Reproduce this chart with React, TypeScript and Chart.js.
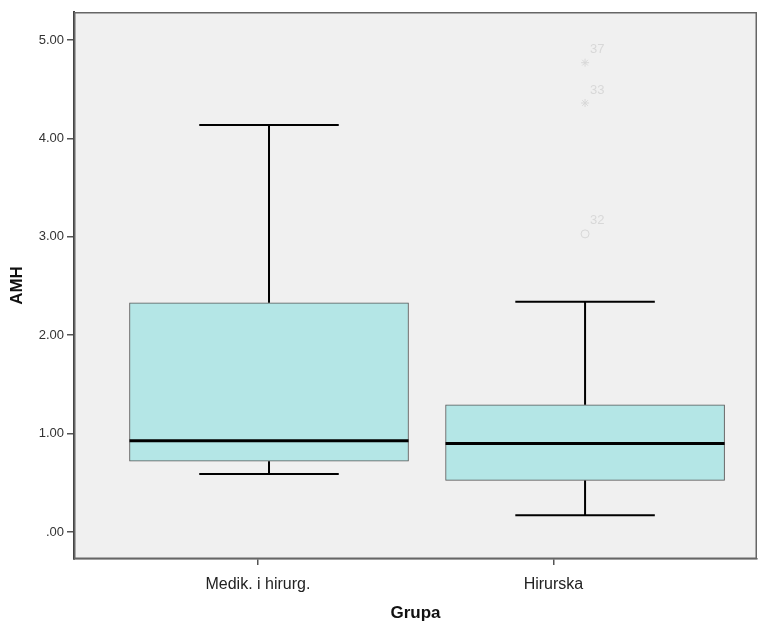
import React, { useEffect, useRef } from 'react';
import { Chart, registerables } from 'chart.js';

Chart.register(...registerables);

// ---- data ----
const categories = ['Medik. i hirurg.', 'Hirurska'];
const whiskerLow = [0.59, 0.17];
const q1 = [0.72, 0.525];
const median = [0.928, 0.9];
const q3 = [2.33, 1.294];
const whiskerHigh = [4.136, 2.34];
const outlierGroup = [1, 1, 1];
const outlierValues = [4.77, 4.36, 3.03];
const outlierIds = ['37', '33', '32'];
const outlierStyles = ['star', 'star', 'circle'];
const yTicks = [0, 1, 2, 3, 4, 5];
const categoryTickPositions = [-0.035, 0.9];

const FONT = "'Liberation Sans', Arial, sans-serif";

const boxPlugin = {
  id: 'boxExtras',
  beforeDraw(chart: any) {
    const { ctx, chartArea: a } = chart;
    ctx.save();
    ctx.fillStyle = '#F0F0F0';
    ctx.fillRect(a.left, a.top, a.right - a.left, a.bottom - a.top);
    ctx.restore();
  },
  afterDatasetsDraw(chart: any) {
    const { ctx } = chart;
    const y = chart.scales.y;
    const x = chart.scales.x;
    const meta = chart.getDatasetMeta(0);
    ctx.save();
    categories.forEach((_, i) => {
      const bar = meta.data[i];
      const cx = bar.x;
      const half = bar.width / 2;
      const capHalf = half / 2;
      ctx.strokeStyle = '#000';
      ctx.lineWidth = 2;
      ctx.beginPath();
      ctx.moveTo(cx, y.getPixelForValue(q3[i]));
      ctx.lineTo(cx, y.getPixelForValue(whiskerHigh[i]));
      ctx.moveTo(cx - capHalf, y.getPixelForValue(whiskerHigh[i]));
      ctx.lineTo(cx + capHalf, y.getPixelForValue(whiskerHigh[i]));
      ctx.moveTo(cx, y.getPixelForValue(q1[i]));
      ctx.lineTo(cx, y.getPixelForValue(whiskerLow[i]));
      ctx.moveTo(cx - capHalf, y.getPixelForValue(whiskerLow[i]));
      ctx.lineTo(cx + capHalf, y.getPixelForValue(whiskerLow[i]));
      ctx.stroke();
      ctx.lineWidth = 3;
      ctx.beginPath();
      ctx.moveTo(cx - half, y.getPixelForValue(median[i]));
      ctx.lineTo(cx + half, y.getPixelForValue(median[i]));
      ctx.stroke();
    });
    ctx.fillStyle = '#D8D8D8';
    ctx.font = `13px ${FONT}`;
    ctx.textAlign = 'left';
    ctx.textBaseline = 'middle';
    outlierValues.forEach((v, i) => {
      const px = x.getPixelForValue(outlierGroup[i]);
      const py = y.getPixelForValue(v);
      ctx.fillText(outlierIds[i], px + 5, py - 13);
    });
    ctx.restore();
  },
  afterDraw(chart: any) {
    const { ctx, chartArea: a } = chart;
    ctx.save();
    ctx.strokeStyle = '#666';
    ctx.lineWidth = 1.5;
    ctx.strokeRect(a.left + 0.75, a.top + 0.75, a.right - a.left - 1.5, a.bottom - a.top - 1.5);
    ctx.restore();
  },
};

export default function App() {
  const ref = useRef<HTMLCanvasElement>(null);

  useEffect(() => {
    if (!ref.current) return;
    const chart = new Chart(ref.current, {
      type: 'bar',
      data: {
        datasets: [
          {
            type: 'bar',
            data: categories.map((_, i) => ({ x: i, y: [q1[i], q3[i]] })) as any,
            backgroundColor: '#B4E6E6',
            borderColor: '#555',
            borderWidth: 1,
            borderSkipped: false,
            barThickness: 279,
          } as any,
          {
            type: 'scatter',
            data: outlierValues.map((v, i) => ({ x: outlierGroup[i], y: v })),
            pointStyle: outlierStyles as any,
            pointRadius: 4,
            borderColor: '#D8D8D8',
            backgroundColor: 'rgba(0,0,0,0)',
            borderWidth: 1,
          } as any,
        ],
      },
      options: {
        responsive: false,
        animation: false,
        layout: { padding: { top: 12, right: 10, left: 0, bottom: 0 } },
        plugins: { legend: { display: false }, tooltip: { enabled: false } },
        scales: {
          x: {
            type: 'linear',
            offset: false,
            min: -0.617,
            max: 1.544,
            afterBuildTicks: (s: any) => {
              s.ticks = categoryTickPositions.map((v) => ({ value: v }));
            },
            afterFit: (s: any) => {
              s.height = 65;
            },
            ticks: {
              callback: (_v: any, idx: number) => categories[idx],
              font: { family: FONT, size: 16 },
              color: '#222',
              padding: 10,
              maxRotation: 0,
              autoSkip: false,
            },
            grid: { offset: false, drawOnChartArea: false, drawTicks: true, tickLength: 6, color: '#555', lineWidth: 1.5 },
            border: { display: true, color: '#444', width: 1.5 },
            title: {
              display: true,
              text: 'Grupa',
              font: { family: FONT, size: 17, weight: 'bold' },
              color: '#111',
              padding: { top: 0, bottom: 0 },
            },
          },
          y: {
            type: 'linear',
            min: -0.274,
            max: 5.285,
            afterBuildTicks: (s: any) => {
              s.ticks = yTicks.map((v) => ({ value: v }));
            },
            afterFit: (s: any) => {
              s.width = 74;
            },
            ticks: {
              callback: (v: any) => (v === 0 ? '.00' : Number(v).toFixed(2)),
              font: { family: FONT, size: 13 },
              color: '#333',
              padding: 3,
            },
            grid: { drawOnChartArea: false, drawTicks: true, tickLength: 7, color: '#555', lineWidth: 1.5 },
            border: { display: true, color: '#444', width: 2 },
            title: {
              display: true,
              text: 'AMH',
              font: { family: FONT, size: 17, weight: 'bold' },
              color: '#111',
              padding: { top: 7, bottom: 0 },
            },
          },
        },
      } as any,
      plugins: [boxPlugin],
    });
    return () => chart.destroy();
  }, []);

  return (
    <canvas
      ref={ref}
      width={767}
      height={624}
      style={{ position: 'absolute', left: 0, top: 0, display: 'block' }}
    />
  );
}
